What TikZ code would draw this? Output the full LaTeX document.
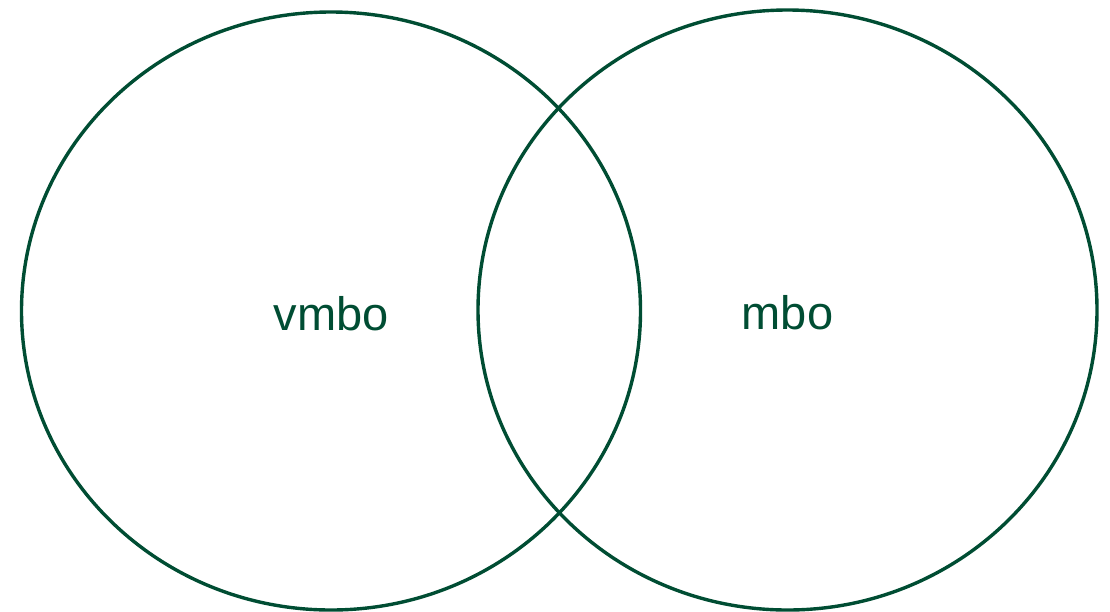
\documentclass[tikz,border=0pt]{standalone}
\usepackage{fontspec}
\setmainfont{Liberation Sans}
\usetikzlibrary{shapes.geometric}
\definecolor{vgreen}{RGB}{0,77,51}
\begin{document}
\begin{tikzpicture}[x=1pt,y=-1pt,
  setellipse/.style={ellipse, draw=vgreen, line width=3.4pt, inner sep=0pt,
    minimum width=619pt, minimum height=598pt, text=vgreen, text height=40pt,
    font=\fontsize{47}{56}\selectfont}]
\useasboundingbox (0,0) rectangle (1110,611);
\node[setellipse] (left) at (331,311) {vmbo};
\node[setellipse, minimum height=600pt] (right) at (787.5,310) {mbo};
\end{tikzpicture}
\end{document}
